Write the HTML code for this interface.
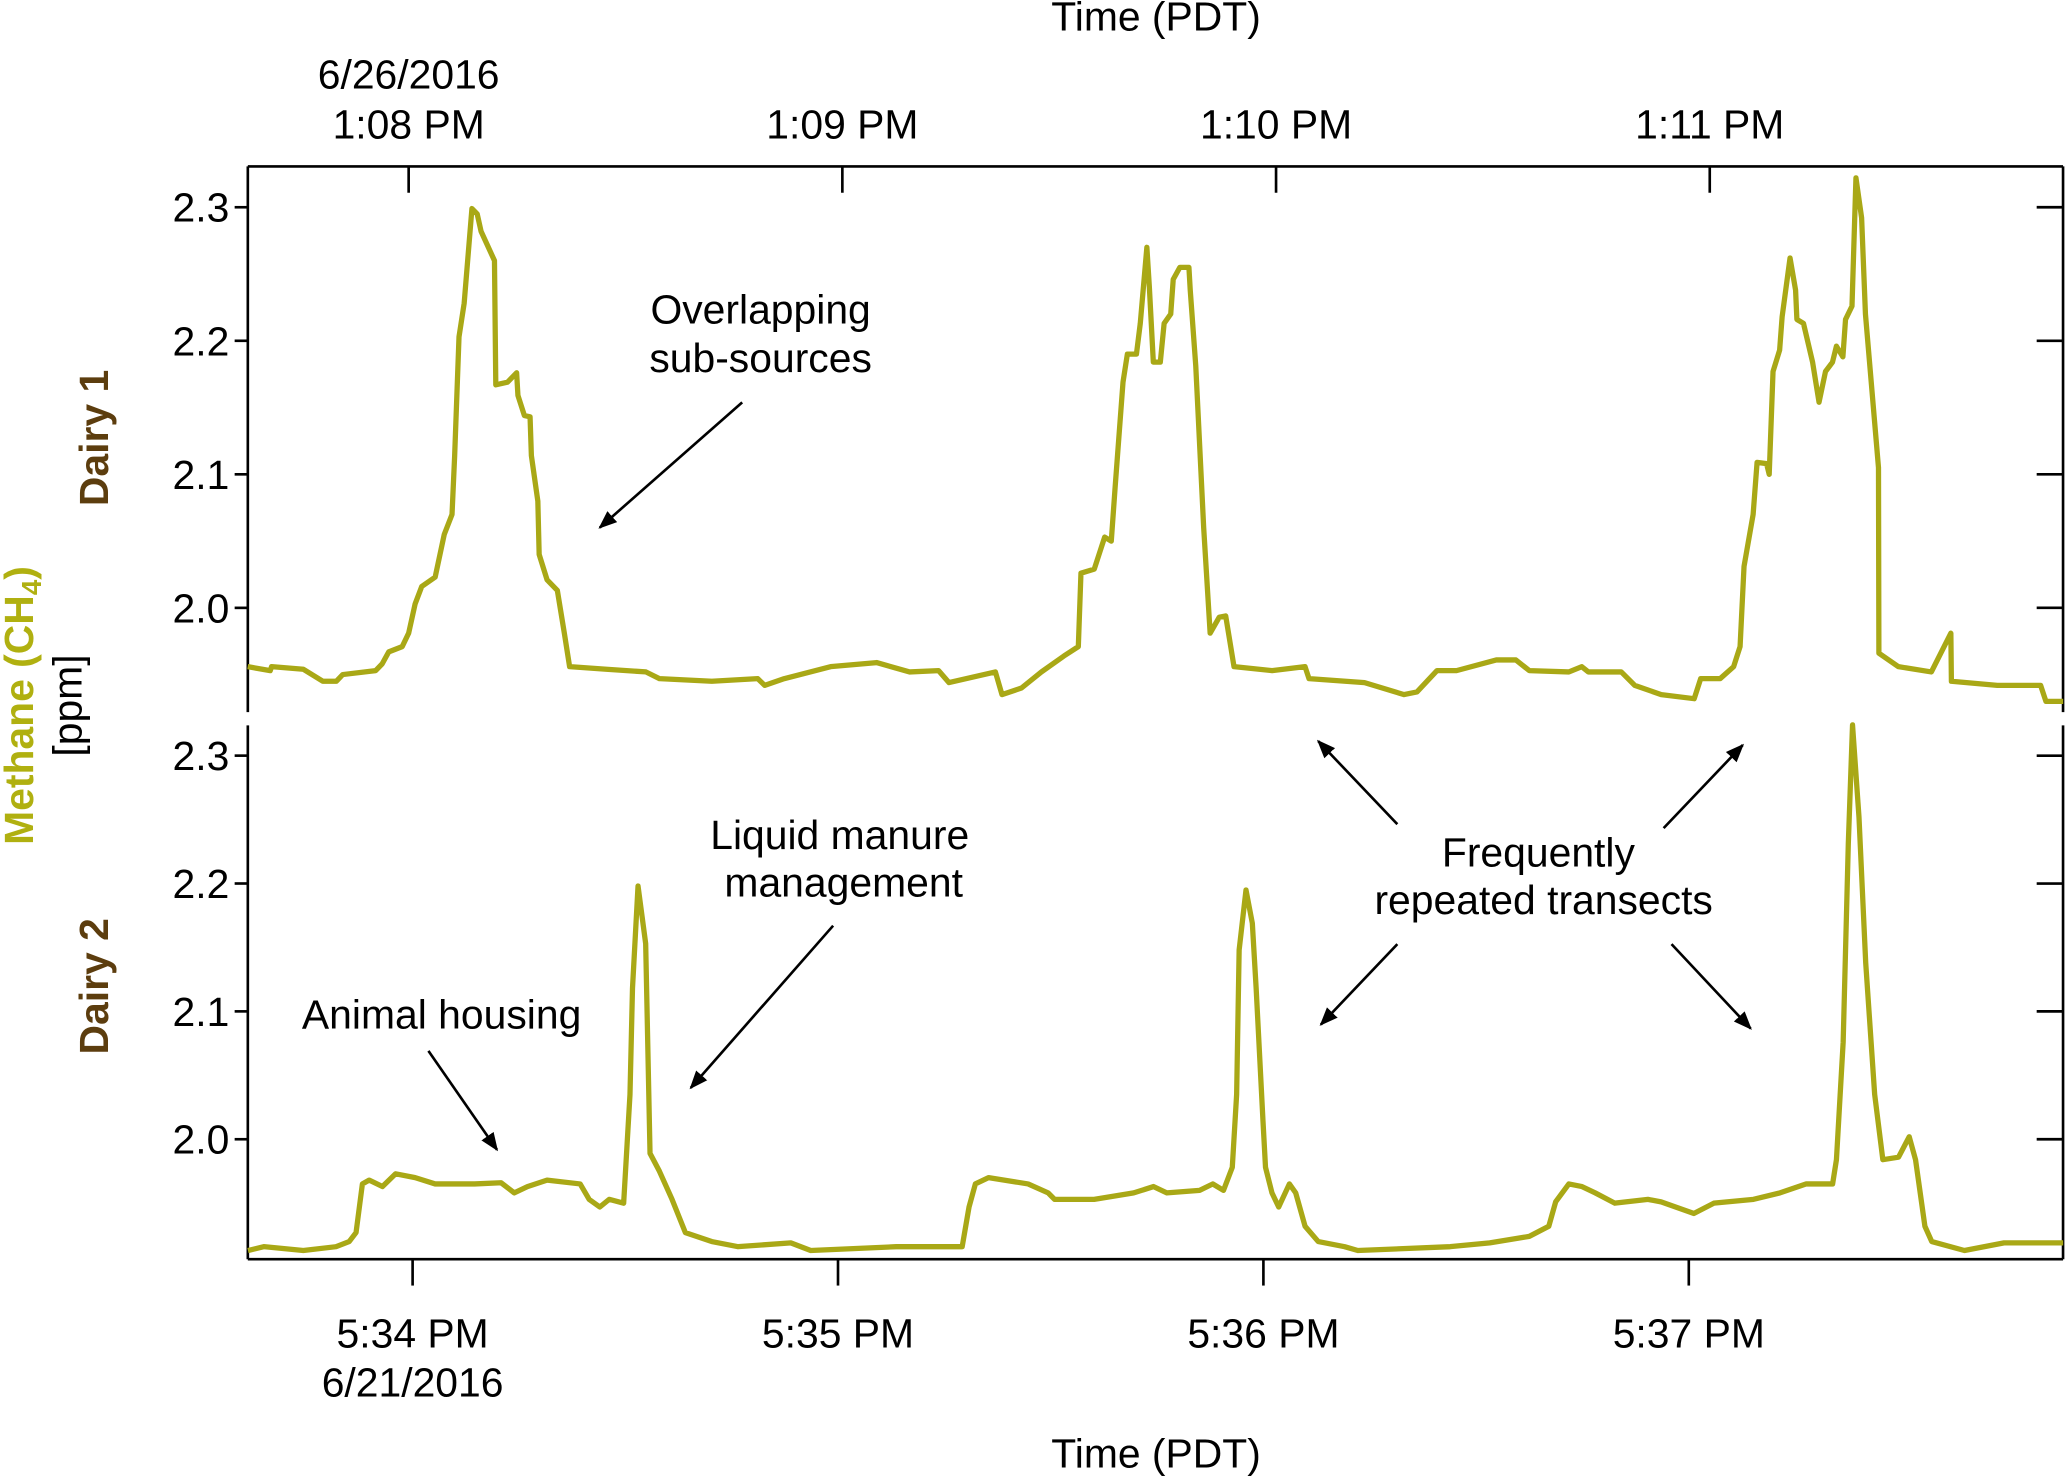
<!DOCTYPE html>
<html><head><meta charset="utf-8">
<style>
html,body{margin:0;padding:0;background:#fff;}
svg{display:block;font-family:"Liberation Sans",Arial,sans-serif;}
</style></head>
<body>
<svg id="chart" width="2067" height="1477" viewBox="0 0 1568 1120" xmlns="http://www.w3.org/2000/svg">
<defs><marker id="ah" viewBox="0 0 10 10" refX="9" refY="5" markerWidth="7" markerHeight="7" orient="auto"><path d="M0,1 L10,5 L0,9 z" fill="#000"/></marker></defs>
<g id="axes"></g>
<g id="series"></g>
<g id="labels" font-size="31" fill="#000">
<text x="877" y="23" text-anchor="middle">Time (PDT)</text>
<text x="877" y="1113" text-anchor="middle">Time (PDT)</text>
<text x="310" y="67" text-anchor="middle">6/26/2016</text>
<text x="313" y="1059" text-anchor="middle">6/21/2016</text>
<text transform="translate(82,332) rotate(-90)" text-anchor="middle" font-weight="bold" fill="#5c3d0e">Dairy 1</text>
<text transform="translate(82,748) rotate(-90)" text-anchor="middle" font-weight="bold" fill="#5c3d0e">Dairy 2</text>
<text transform="translate(25,535) rotate(-90)" text-anchor="middle" font-weight="bold" fill="#b0b010">Methane (CH<tspan font-size="21" dy="6">4</tspan><tspan dy="-6">)</tspan></text>
<text transform="translate(62,535) rotate(-90)" text-anchor="middle">[ppm]</text>
<text x="577" y="245" text-anchor="middle">Overlapping</text>
<text x="577" y="282" text-anchor="middle">sub-sources</text>
<text x="637" y="644" text-anchor="middle">Liquid manure</text>
<text x="640" y="680" text-anchor="middle">management</text>
<text x="335" y="780" text-anchor="middle">Animal housing</text>
<text x="1167" y="657" text-anchor="middle">Frequently</text>
<text x="1171" y="693" text-anchor="middle">repeated transects</text>
</g>
<g id="arrows" stroke="#000" stroke-width="2" marker-end="url(#ah)"></g>
</svg>
<script>
// Top panel: minutes after 1:08 PM (6/26/2016), methane ppm
const topTimes=[-0.371,-0.319,-0.316,-0.243,-0.198,-0.167,-0.152,-0.076,-0.061,-0.046,-0.015,0,0.015,0.030,0.061,0.082,0.100,0.106,0.116,0.128,0.146,0.158,0.167,0.198,0.201,0.228,0.249,0.252,0.267,0.280,0.283,0.298,0.301,0.319,0.343,0.359,0.371,0.456,0.547,0.578,0.699,0.805,0.821,0.866,0.973,1.079,1.155,1.222,1.246,1.353,1.368,1.413,1.459,1.511,1.544,1.550,1.581,1.605,1.620,1.629,1.647,1.657,1.678,1.687,1.702,1.708,1.717,1.733,1.742,1.757,1.763,1.778,1.799,1.802,1.815,1.833,1.848,1.869,1.884,1.903,1.991,2.067,2.076,2.204,2.295,2.325,2.371,2.416,2.508,2.553,2.584,2.675,2.705,2.720,2.796,2.827,2.888,2.964,2.979,3.024,3.055,3.070,3.079,3.100,3.109,3.131,3.137,3.146,3.161,3.167,3.185,3.198,3.201,3.216,3.237,3.252,3.267,3.283,3.292,3.307,3.313,3.328,3.337,3.350,3.359,3.389,3.390,3.435,3.511,3.556,3.557,3.663,3.763,3.775,3.815];
const topValues=[1.956,1.953,1.956,1.954,1.945,1.945,1.950,1.953,1.958,1.967,1.971,1.981,2.003,2.016,2.023,2.055,2.070,2.114,2.203,2.228,2.299,2.295,2.282,2.260,2.167,2.169,2.176,2.159,2.144,2.143,2.114,2.080,2.040,2.021,2.013,1.981,1.956,1.954,1.952,1.947,1.945,1.947,1.942,1.947,1.956,1.959,1.952,1.953,1.944,1.952,1.935,1.940,1.952,1.964,1.971,2.026,2.029,2.053,2.050,2.090,2.169,2.190,2.190,2.213,2.270,2.240,2.184,2.184,2.213,2.220,2.246,2.255,2.255,2.238,2.181,2.060,1.981,1.993,1.994,1.956,1.953,1.956,1.947,1.944,1.935,1.937,1.953,1.953,1.961,1.961,1.953,1.952,1.956,1.952,1.952,1.942,1.935,1.932,1.947,1.947,1.956,1.971,2.031,2.070,2.109,2.108,2.100,2.177,2.193,2.218,2.262,2.238,2.216,2.213,2.184,2.154,2.177,2.184,2.196,2.188,2.216,2.226,2.322,2.292,2.220,2.105,1.966,1.956,1.952,1.981,1.945,1.942,1.942,1.930,1.930];
// Bottom panel: minutes after 5:34 PM (6/21/2016), methane ppm
const botTimes=[-0.387,-0.350,-0.257,-0.180,-0.149,-0.133,-0.118,-0.102,-0.071,-0.040,0.006,0.053,0.146,0.208,0.239,0.270,0.316,0.394,0.415,0.440,0.462,0.496,0.511,0.517,0.530,0.548,0.558,0.580,0.610,0.641,0.703,0.765,0.889,0.936,1.137,1.292,1.308,1.323,1.354,1.447,1.494,1.509,1.602,1.695,1.742,1.773,1.850,1.881,1.906,1.927,1.937,1.943,1.959,1.974,1.983,1.999,2.005,2.020,2.036,2.061,2.076,2.098,2.129,2.191,2.222,2.439,2.532,2.625,2.671,2.687,2.718,2.749,2.780,2.826,2.904,2.935,3.012,3.059,3.152,3.214,3.276,3.338,3.347,3.363,3.375,3.385,3.400,3.416,3.437,3.456,3.493,3.518,3.533,3.555,3.571,3.648,3.741,3.880];
const botValues=[1.913,1.916,1.913,1.916,1.920,1.927,1.965,1.968,1.963,1.973,1.970,1.965,1.965,1.966,1.958,1.963,1.968,1.965,1.953,1.947,1.953,1.950,2.035,2.118,2.198,2.153,1.989,1.975,1.953,1.927,1.920,1.916,1.919,1.913,1.916,1.916,1.947,1.965,1.970,1.965,1.958,1.953,1.953,1.958,1.963,1.958,1.960,1.965,1.960,1.978,2.035,2.148,2.195,2.169,2.118,2.014,1.978,1.958,1.947,1.965,1.958,1.932,1.920,1.916,1.913,1.916,1.919,1.924,1.932,1.951,1.965,1.963,1.958,1.950,1.953,1.951,1.942,1.950,1.953,1.958,1.965,1.965,1.984,2.076,2.231,2.324,2.252,2.138,2.035,1.984,1.986,2.002,1.984,1.932,1.920,1.913,1.919,1.919];
const topTickLabels=["1:08 PM","1:09 PM","1:10 PM","1:11 PM"];
const botTickLabels=["5:34 PM","5:35 PM","5:36 PM","5:37 PM"];
const yTickValues=[2.0,2.1,2.2,2.3];

const NS="http://www.w3.org/2000/svg";
const L=188,R=1565;
const xTop=t=>310+t*329;
const yTop=v=>157+(2.3-v)*1013;
const xBot=t=>313+t*322.7;
const yBot=v=>573+(2.3-v)*970;
const COL="#a9a816";
function mk(tag,attrs,parent){const e=document.createElementNS(NS,tag);for(const k in attrs)e.setAttribute(k,attrs[k]);parent.appendChild(e);return e;}
const axes=document.getElementById('axes');
let ln;
ln=mk('line',{x1:L,y1:126,x2:R,y2:126,stroke:'#000','stroke-width':2},axes);


ln=mk('line',{x1:L,y1:955,x2:R,y2:955,stroke:'#000','stroke-width':2},axes);


[[126,540],[550,955]].forEach(([a,b])=>{
  let l1=mk('line',{x1:L,y1:a,x2:L,y2:b,stroke:'#000','stroke-width':2},axes);
  
  
  let l2=mk('line',{x1:R,y1:a,x2:R,y2:b,stroke:'#000','stroke-width':2},axes);
  
  
});
yTickValues.forEach(v=>{
  [yTop,yBot].forEach(f=>{
    const y=f(v);
    let t=mk('line',{x1:L-10,y1:y,x2:L,y2:y,stroke:'#000','stroke-width':2},axes);
    
    
    let t2=mk('line',{x1:R-20,y1:y,x2:R,y2:y,stroke:'#000','stroke-width':2},axes);
    
    
    let tx=mk('text',{x:L-14,y:y+11,'text-anchor':'end','font-size':31},axes);
    tx.textContent=v.toFixed(1);
    
    
  });
});
topTickLabels.forEach((s,i)=>{
  const x=xTop(i);
  let t=mk('line',{x1:x,y1:126,x2:x,y2:146,stroke:'#000','stroke-width':2},axes);
  
  
  let tx=mk('text',{x:x,y:105,'text-anchor':'middle','font-size':31},axes);
  tx.textContent=s;
  
  
});
botTickLabels.forEach((s,i)=>{
  const x=xBot(i);
  let t=mk('line',{x1:x,y1:955,x2:x,y2:975,stroke:'#000','stroke-width':2},axes);
  
  
  let tx=mk('text',{x:x,y:1022,'text-anchor':'middle','font-size':31},axes);
  tx.textContent=s;
  
  
});
const sg=document.getElementById('series');
let p1=mk('polyline',{points:topTimes.map((t,i)=>xTop(t).toFixed(1)+','+yTop(topValues[i]).toFixed(1)).join(' '),fill:'none',stroke:COL,'stroke-width':4,'stroke-linejoin':'round'},sg);


let p2=mk('polyline',{points:botTimes.map((t,i)=>xBot(t).toFixed(1)+','+yBot(botValues[i]).toFixed(1)).join(' '),fill:'none',stroke:COL,'stroke-width':4,'stroke-linejoin':'round'},sg);


const ag=document.getElementById('arrows');
[[563,305,455,400],[1060,625,1000,562],[1262,628,1322,565],[1060,716,1002,777],[1268,716,1328,780],[632,702,524,825],[325,797,377,872]].forEach(a=>{
  let l=mk('line',{x1:a[0],y1:a[1],x2:a[2],y2:a[3]},ag);
  
  
});
</script>
</body></html>
